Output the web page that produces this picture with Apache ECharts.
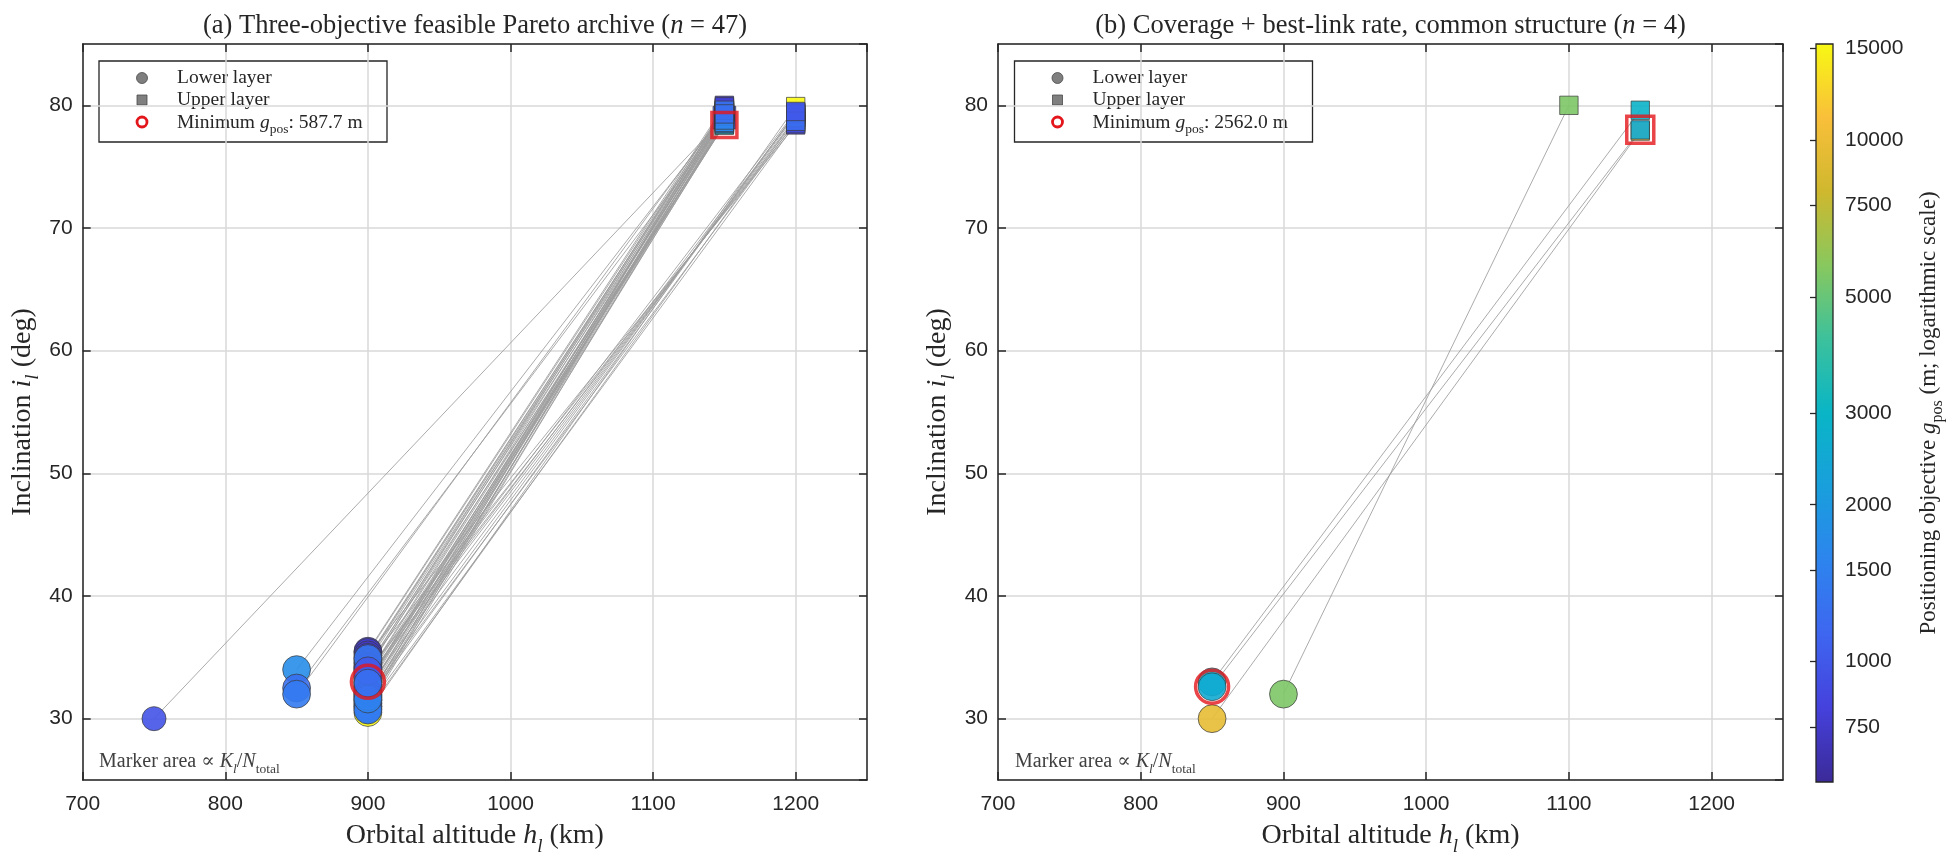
<!DOCTYPE html>
<html><head><meta charset="utf-8">
<script src="https://cdn.jsdelivr.net/npm/echarts@6/dist/echarts.min.js"></script>
<style>html,body{margin:0;padding:0;background:#fff}#c{width:1956px;height:861px}</style>
</head><body><div id="c"></div>
<script>
// ---------- tick labels ----------
const xTicks = [700, 800, 900, 1000, 1100, 1200];
const yTicks = [30, 40, 50, 60, 70, 80];
const cbTicks = [750, 1000, 1500, 2000, 3000, 5000, 7500, 10000, 15000];

// ---------- panel (a): 47 Pareto designs ----------
const aLowerH = [750,900,900,850,850,850,900,900,900,900,900,900,900,900,900,900,900,900,900,900,900,900,900,900,900,900,900,900,900,900,900,900,900,900,900,900,900,900,900,900,900,900,900,900,900,900,900];
const aLowerI = [30.0,30.5,33.0,34.0,32.5,32.0,35.5,35.4,35.2,35.0,34.8,34.6,34.5,34.3,34.1,34.0,33.8,33.6,33.5,33.3,33.2,33.0,32.8,32.6,32.5,32.3,32.2,32.0,31.9,31.7,31.5,31.5,31.3,31.2,31.0,31.0,30.8,30.7,34.2,33.4,32.7,32.1,31.8,31.6,34.9,33.9,32.9];
const aUpperH = [1150,1200,1150,1150,1150,1150,1150,1150,1200,1150,1150,1150,1200,1150,1150,1150,1200,1150,1150,1150,1200,1150,1150,1200,1150,1150,1150,1200,1150,1150,1150,1200,1150,1150,1200,1150,1150,1200,1150,1200,1150,1150,1200,1150,1150,1200,1150];
const aUpperI = [79.0,79.9,78.4,79.3,78.8,79.5,80.0,79.8,78.4,79.6,79.4,79.2,78.6,79.0,78.4,79.7,78.8,79.5,79.1,78.6,79.0,79.3,78.9,79.2,79.6,78.7,79.4,79.4,79.0,78.5,79.8,79.4,79.2,78.6,78.5,79.5,78.9,79.0,79.9,79.3,78.6,79.1,78.7,78.8,79.6,79.5,79.3];
const aGpos   = [950,15300,587.7,1750,1250,1400,700,760,720,820,900,2300,800,1050,3300,1100,950,1150,1200,1800,1050,1250,1300,1150,1350,1400,1200,1300,1450,1500,1100,1250,1000,1350,900,1200,1600,1400,780,1100,1700,1050,1200,1550,1300,1000,1250];
const aLowerFrac = [0.5,0.67,0.67,0.67,0.67,0.67,0.67,0.67,0.67,0.67,0.67,0.67,0.67,0.67,0.67,0.67,0.67,0.67,0.67,0.67,0.67,0.67,0.67,0.67,0.67,0.67,0.67,0.67,0.67,0.67,0.67,0.67,0.67,0.67,0.67,0.67,0.67,0.67,0.67,0.67,0.67,0.67,0.67,0.67,0.67,0.67,0.67];

// ---------- panel (b): 4 common-structure designs ----------
const bLowerH = [850, 900, 850, 850];
const bLowerI = [30.0, 32.0, 33.0, 32.6];
const bUpperH = [1150, 1100, 1150, 1150];
const bUpperI = [77.9, 80.0, 79.6, 78.0];
const bGpos   = [9500, 5500, 2900, 2562.0];
const bLowerFrac = [0.67, 0.67, 0.67, 0.67];

// colour scale (log10 of g_pos), parula-like
const allG = aGpos.concat(bGpos);
const cbLogMin = Math.log10(Math.min(...allG));
const cbLogMax = Math.log10(Math.max(...allG));
const parula = ['#3b2a98','#4541dc','#3e66f0','#2d84ee','#199fdc','#09b5c6','#3cc19c','#88c85e','#cfb82e','#f9bf3a','#f8f814'];

const SERIF = '"Liberation Serif", "DejaVu Serif", serif';
const SANS = 'Arial, "Liberation Sans", sans-serif';
const INK = '#262626';
const NF = 28;

function argmin(a){let k=0;for(let i=1;i<a.length;i++) if(a[i]<a[k]) k=i;return k;}

const grids = [
  {left: 82.7, top: 44, width: 784.3, height: 738},
  {left: 998, top: 44, width: 785, height: 738},
  {left: 1816, top: 44, width: 17, height: 738}
];

const richName = {
  i: {fontStyle: 'italic', fontFamily: SERIF, fontSize: NF, color: INK},
  s: {fontStyle: 'italic', fontFamily: SERIF, fontSize: 19, color: INK, verticalAlign: 'bottom', lineHeight: 40},
  t: {fontFamily: SERIF, fontSize: NF, color: INK, lineHeight: NF}
};

function xAx(g, pos, main) {
  return {
    type: 'value', gridIndex: g, position: pos, min: 700, max: 1250, interval: 100,
    axisLine: {show: true, onZero: false, lineStyle: {color: INK, width: 1.5}},
    axisTick: {show: true, inside: true, length: 8, lineStyle: {color: INK, width: 1.5}},
    axisLabel: {show: main, showMaxLabel: false, color: INK, fontSize: 21, fontFamily: SANS, margin: 14, formatter: v => String(v)},
    splitLine: {show: main, lineStyle: {color: '#d9d9d9', width: 1.5}},
    name: main ? '{t|Orbital altitude }{i|h}{s|l}{t| (km)}' : '',
    nameLocation: 'middle', nameGap: 36,
    nameTextStyle: {fontFamily: SERIF, fontSize: NF, color: INK, rich: richName}
  };
}
function yAx(g, pos, main) {
  return {
    type: 'value', gridIndex: g, position: pos, min: 25, max: 85, splitNumber: 6,
    axisLine: {show: true, onZero: false, lineStyle: {color: INK, width: 1.5}},
    axisTick: {show: true, inside: true, length: 8, lineStyle: {color: INK, width: 1.5}},
    axisLabel: {show: main, showMinLabel: false, showMaxLabel: false, color: INK, fontSize: 21, fontFamily: SANS, margin: 10},
    splitLine: {show: main, lineStyle: {color: '#d9d9d9', width: 1.5}},
    name: main ? '{t|Inclination }{i|i}{s|l}{t| (deg)}' : '',
    nameLocation: 'middle', nameGap: 40, nameRotate: 90,
    nameTextStyle: {fontFamily: SERIF, fontSize: NF, color: INK, rich: richName}
  };
}

function panelSeries(xi, lowerH, lowerI, upperH, upperI, gpos, frac) {
  const k = argmin(gpos);
  const lines = lowerH.map((h, j) => ({coords: [[h, lowerI[j]], [upperH[j], upperI[j]]]}));
  const low = lowerH.map((h, j) => [h, lowerI[j], Math.log10(gpos[j]), frac[j]]);
  const up = upperH.map((h, j) => [h, upperI[j], Math.log10(gpos[j]), 1 - frac[j]]);
  return [
    {type: 'lines', coordinateSystem: 'cartesian2d', xAxisIndex: xi, yAxisIndex: xi, z: 2, silent: true,
     lineStyle: {color: '#9c9c9c', width: 1, opacity: 0.85}, data: lines},
    {type: 'scatter', xAxisIndex: xi, yAxisIndex: xi, z: 3, symbol: 'circle',
     symbolSize: v => 34 * Math.sqrt(v[3]),
     itemStyle: {borderColor: '#3a3a3a', borderWidth: 0.8, opacity: 0.9}, data: low},
    {type: 'scatter', xAxisIndex: xi, yAxisIndex: xi, z: 3, symbol: 'rect',
     symbolSize: v => 32 * Math.sqrt(v[3]),
     itemStyle: {borderColor: '#3a3a3a', borderWidth: 0.8, opacity: 0.9}, data: up},
    {type: 'scatter', xAxisIndex: xi, yAxisIndex: xi, z: 5, symbol: 'circle', symbolSize: 33,
     itemStyle: {color: 'rgba(0,0,0,0)', borderColor: '#e3161b', borderWidth: 3.5}, data: [[lowerH[k], lowerI[k]]]},
    {type: 'scatter', xAxisIndex: xi, yAxisIndex: xi, z: 5, symbol: 'rect', symbolSize: xi === 0 ? 25 : 27,
     itemStyle: {color: 'rgba(0,0,0,0)', borderColor: '#e3161b', borderWidth: 3.5}, data: [[upperH[k], upperI[k]]]}
  ];
}

const sA = panelSeries(0, aLowerH, aLowerI, aUpperH, aUpperI, aGpos, aLowerFrac);
const sB = panelSeries(2, bLowerH, bLowerI, bUpperH, bUpperI, bGpos, bLowerFrac);

const stops = parula.map((c, i) => ({offset: i / (parula.length - 1), color: c}));
const cbSeries = {
  type: 'custom', xAxisIndex: 4, yAxisIndex: 4, z: 2, silent: true,
  data: [[0, cbLogMin, 1, cbLogMax]],
  renderItem: (p, api) => {
    const a = api.coord([api.value(0), api.value(1)]);
    const b = api.coord([api.value(2), api.value(3)]);
    const shape = {x: a[0], y: b[1], width: b[0] - a[0], height: a[1] - b[1]};
    return {type: 'group', children: [
      {type: 'rect', shape, style: {fill: new echarts.graphic.LinearGradient(0, 1, 0, 0, stops)}},
      {type: 'rect', shape, style: {fill: 'none', stroke: INK, lineWidth: 1.3}}
    ]};
  }
};

function legend(x0, minText) {
  const LF = 19.5;
  const rich = {
    t: {fontFamily: SERIF, fontSize: LF, fill: INK, lineHeight: 20},
    i: {fontFamily: SERIF, fontSize: LF, fontStyle: 'italic', fill: INK, lineHeight: 20},
    r: {fontFamily: SERIF, fontSize: 13.5, fill: INK, verticalAlign: 'bottom', lineHeight: 27}
  };
  return {type: 'group', z: 100, children: [
    {type: 'rect', shape: {x: x0, y: 61, width: minText.w, height: 81}, style: {fill: '#fff', stroke: INK, lineWidth: 1.3}},
    {type: 'circle', shape: {cx: x0 + 43, cy: 78, r: 5.5}, style: {fill: '#7f7f7f', stroke: '#4a4a4a', lineWidth: 0.8}},
    {type: 'rect', shape: {x: x0 + 38, y: 95, width: 10, height: 10}, style: {fill: '#7f7f7f', stroke: '#4a4a4a', lineWidth: 0.8}},
    {type: 'circle', shape: {cx: x0 + 43, cy: 122, r: 5}, style: {fill: 'none', stroke: '#e3161b', lineWidth: 2.8}},
    {type: 'text', x: x0 + 78, y: 78, style: {text: 'Lower layer', fontFamily: SERIF, fontSize: LF, fill: INK, verticalAlign: 'middle'}},
    {type: 'text', x: x0 + 78, y: 100, style: {text: 'Upper layer', fontFamily: SERIF, fontSize: LF, fill: INK, verticalAlign: 'middle'}},
    {type: 'text', x: x0 + 78, y: 123, style: {text: '{t|Minimum }{i|g}{r|pos}{t|: ' + minText.v + ' m}', rich, verticalAlign: 'middle'}}
  ]};
}
function note(x0) {
  return {type: 'text', x: x0, y: 762, z: 100, style: {
    text: '{t|Marker area ∝ }{i|K}{s|l}{t|/}{i|N}{r|total}', verticalAlign: 'middle',
    rich: {
      t: {fontFamily: SERIF, fontSize: 20, fill: '#404040', lineHeight: 20},
      i: {fontFamily: SERIF, fontSize: 20, fontStyle: 'italic', fill: '#404040', lineHeight: 20},
      s: {fontFamily: SERIF, fontSize: 13.5, fontStyle: 'italic', fill: '#404040', verticalAlign: 'bottom', lineHeight: 28},
      r: {fontFamily: SERIF, fontSize: 13.5, fill: '#404040', verticalAlign: 'bottom', lineHeight: 28}
    }}};
}
function title(cx, txt) {
  return {type: 'text', x: cx, y: 26, z: 100, style: {
    text: txt, align: 'center', verticalAlign: 'middle',
    rich: {
      t: {fontFamily: SERIF, fontSize: 26.5, fill: INK},
      i: {fontFamily: SERIF, fontSize: 26.5, fontStyle: 'italic', fill: INK}
    }}};
}

const minA = aGpos[argmin(aGpos)].toFixed(1);
const minB = bGpos[argmin(bGpos)].toFixed(1);

const option = {
  animation: false,
  backgroundColor: '#fff',
  grid: grids,
  xAxis: [xAx(0, 'bottom', true), xAx(0, 'top', false), xAx(1, 'bottom', true), xAx(1, 'top', false),
          {type: 'value', gridIndex: 2, min: 0, max: 1, show: false}],
  yAxis: [yAx(0, 'left', true), yAx(0, 'right', false), yAx(1, 'left', true), yAx(1, 'right', false),
          {type: 'value', gridIndex: 2, position: 'right', min: cbLogMin, max: cbLogMax,
           axisLine: {show: false},
           axisTick: {show: true, inside: true, length: 6, customValues: cbTicks.map(Math.log10), lineStyle: {color: INK, width: 1.3}},
           axisLabel: {show: true, customValues: cbTicks.map(Math.log10), formatter: v => String(Math.round(Math.pow(10, v))),
                       color: INK, fontSize: 21, fontFamily: SANS, margin: 12},
           splitLine: {show: false}}],
  visualMap: {type: 'continuous', show: false, dimension: 2, min: cbLogMin, max: cbLogMax,
              seriesIndex: [1, 2, 6, 7], inRange: {color: parula}},
  series: sA.concat(sB).concat([cbSeries]),
  graphic: [
    title(475, '{t|(a) Three-objective feasible Pareto archive (}{i|n}{t| = 47)}'),
    title(1390.5, '{t|(b) Coverage + best-link rate, common structure (}{i|n}{t| = 4)}'),
    legend(99, {v: minA, w: 288}),
    legend(1014.5, {v: minB, w: 298}),
    note(99), note(1015),
    {type: 'text', x: 1929, y: 413, rotation: Math.PI / 2, z: 100, style: {
      text: '{t|Positioning objective }{i|g}{r|pos}{t| (m; logarithmic scale)}', align: 'center', verticalAlign: 'middle',
      rich: {
        t: {fontFamily: SERIF, fontSize: 23, fill: INK, lineHeight: 24},
        i: {fontFamily: SERIF, fontSize: 23, fontStyle: 'italic', fill: INK, lineHeight: 24},
        r: {fontFamily: SERIF, fontSize: 16, fill: INK, verticalAlign: 'bottom', lineHeight: 33}
      }}}
  ]
};
const chart = echarts.init(document.getElementById('c'));
chart.setOption(option);
</script></body></html>
